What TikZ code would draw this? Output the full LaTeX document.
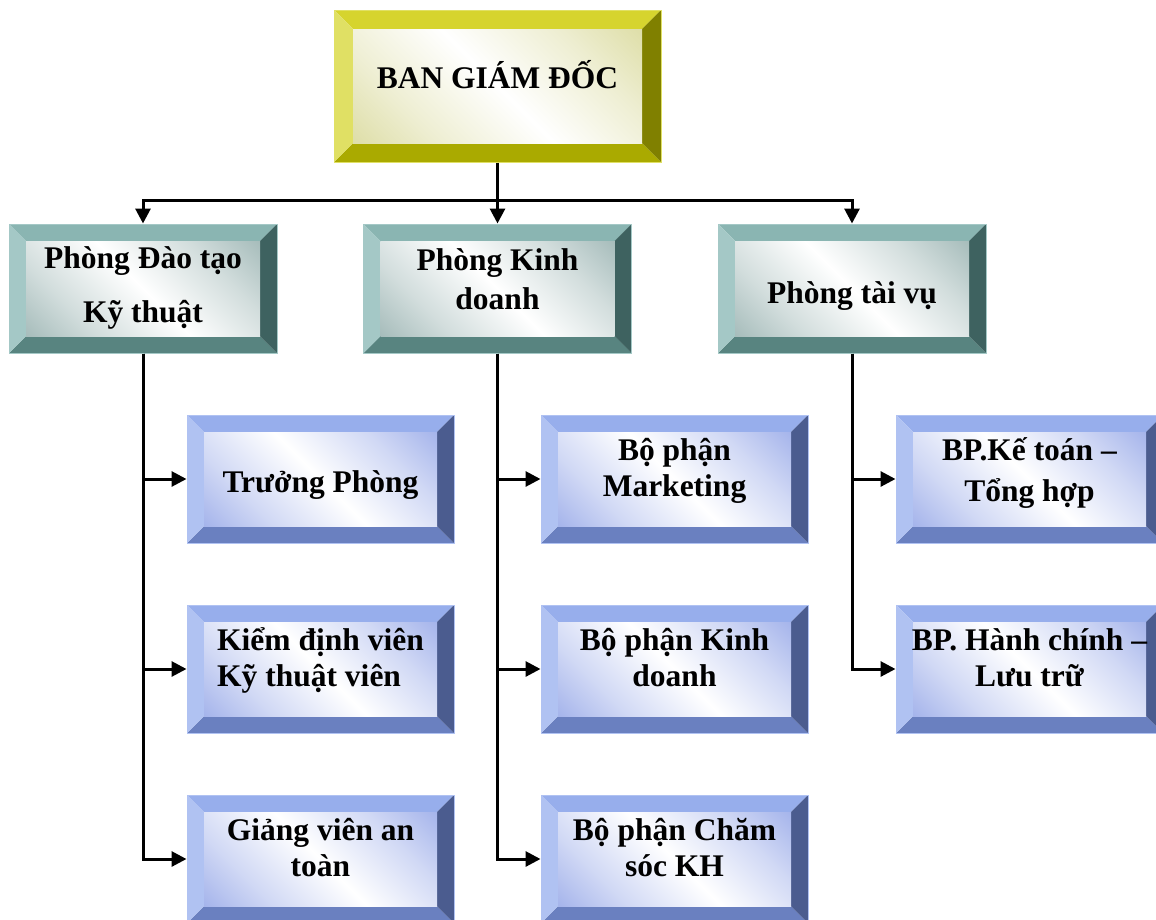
\documentclass[tikz,border=0pt]{standalone}
\usepackage{fontspec}
\setmainfont{Liberation Serif}
\usetikzlibrary{arrows.meta}

\definecolor{goldT}{HTML}{D6D42E}
\definecolor{goldL}{HTML}{E0E064}
\definecolor{goldR}{HTML}{808000}
\definecolor{goldB}{HTML}{AAAA00}
\definecolor{goldC}{HTML}{CFCF80}
\definecolor{tealT}{HTML}{8AB5B2}
\definecolor{tealL}{HTML}{A4C8C6}
\definecolor{tealR}{HTML}{3E6260}
\definecolor{tealB}{HTML}{588480}
\definecolor{tealC}{HTML}{7E9E9C}
\definecolor{blueT}{HTML}{97AEEC}
\definecolor{blueL}{HTML}{B0C2F2}
\definecolor{blueR}{HTML}{4B5C8F}
\definecolor{blueB}{HTML}{6A80C0}
\definecolor{blueC}{HTML}{7C92E2}

\pgfdeclareverticalshading{goldglow}{100bp}{color(0bp)=(goldC); color(30bp)=(goldC!35!white); color(50bp)=(white); color(70bp)=(goldC!35!white); color(100bp)=(goldC)}
\pgfdeclareverticalshading{tealglow}{100bp}{color(0bp)=(tealC); color(30bp)=(tealC!35!white); color(50bp)=(white); color(70bp)=(tealC!35!white); color(100bp)=(tealC)}
\pgfdeclareverticalshading{blueglow}{100bp}{color(0bp)=(blueC); color(30bp)=(blueC!35!white); color(50bp)=(white); color(70bp)=(blueC!35!white); color(100bp)=(blueC)}

\newcommand\lines[2][0pt]{\raisebox{#1}[\height][\depth]{\begin{tabular}{@{}c@{}}#2\end{tabular}}}

\begin{document}
\begin{tikzpicture}[x=1pt,y=-1pt,
  frame/.style n args={2}{rectangle, inner sep=0pt, draw=#1L, line width=1pt, path picture={
    \fill[#1T] (path picture bounding box.north west) -- (path picture bounding box.north east) -- ([shift={(-#2,-#2)}]path picture bounding box.north east) -- ([shift={(#2,-#2)}]path picture bounding box.north west) -- cycle;
    \fill[#1B] (path picture bounding box.south west) -- (path picture bounding box.south east) -- ([shift={(-#2,#2)}]path picture bounding box.south east) -- ([shift={(#2,#2)}]path picture bounding box.south west) -- cycle;
    \fill[#1L] (path picture bounding box.north west) -- (path picture bounding box.south west) -- ([shift={(#2,#2)}]path picture bounding box.south west) -- ([shift={(#2,-#2)}]path picture bounding box.north west) -- cycle;
    \fill[#1R] (path picture bounding box.north east) -- (path picture bounding box.south east) -- ([shift={(-#2,#2)}]path picture bounding box.south east) -- ([shift={(-#2,-#2)}]path picture bounding box.north east) -- cycle;
    \shade[shading=#1glow, shading angle=135] ([shift={(#2,-#2)}]path picture bounding box.north west) rectangle ([shift={(-#2,#2)}]path picture bounding box.south east);
  }, font=\fontsize{31.5}{36}\selectfont\bfseries},
  top/.style={frame={gold}{19pt}, minimum width=327pt, minimum height=152pt},
  dept/.style={frame={teal}{17pt}, minimum width=268pt, minimum height=129pt},
  unit/.style={frame={blue}{17pt}, minimum width=267pt, minimum height=128pt},
  arr/.style={line width=3pt, -{Triangle[length=15pt,width=15pt]}}]
\useasboundingbox (0,0) rectangle (1156,919);

\node[top] (bgd) at (497.5,86) {\lines[6pt]{BAN GIÁM ĐỐC}};

\node[dept] (dt) at (143,288.5) {\lines{Phòng Đào tạo\\[18pt]Kỹ thuật}};
\node[dept] (kd) at (497.5,288.5) {\lines[6pt]{Phòng Kinh\\[3pt]doanh}};
\node[dept] (tv) at (852,288.5) {\lines[-8pt]{Phòng tài vụ}};

\node[unit] (tp) at (320.5,479) {\lines[-6pt]{Trưởng Phòng}};
\node[unit] (kv) at (320.5,669) {\raisebox{8pt}[\height][\depth]{\begin{tabular}{@{}l@{}}Kiểm định viên\\Kỹ thuật viên\end{tabular}}};
\node[unit] (gv) at (320.5,859) {\lines[8pt]{Giảng viên an\\toàn}};
\node[unit] (mk) at (674.5,479) {\lines[8pt]{Bộ phận\\Marketing}};
\node[unit] (bk) at (674.5,669) {\lines[8pt]{Bộ phận Kinh\\doanh}};
\node[unit] (cs) at (674.5,859) {\lines[8pt]{Bộ phận Chăm\\sóc KH}};
\node[unit] (kt) at (1029.5,479) {\lines[5pt]{BP.Kế toán –\\[5pt]Tổng hợp}};
\node[unit] (hc) at (1029.5,669) {\lines[8pt]{BP. Hành chính –\\Lưu trữ}};

\coordinate (bus) at (497.5,200);
\draw[arr] (bgd.south) -- (kd.north);
\draw[arr] (bus) -| (dt.north);
\draw[arr] (bus) -| (tv.north);

\draw[arr] (dt.south) |- (tp.west);
\draw[arr] (dt.south) |- (kv.west);
\draw[arr] (dt.south) |- (gv.west);
\draw[arr] (kd.south) |- (mk.west);
\draw[arr] (kd.south) |- (bk.west);
\draw[arr] (kd.south) |- (cs.west);
\draw[arr] (tv.south) |- (kt.west);
\draw[arr] (tv.south) |- (hc.west);
\end{tikzpicture}
\end{document}
